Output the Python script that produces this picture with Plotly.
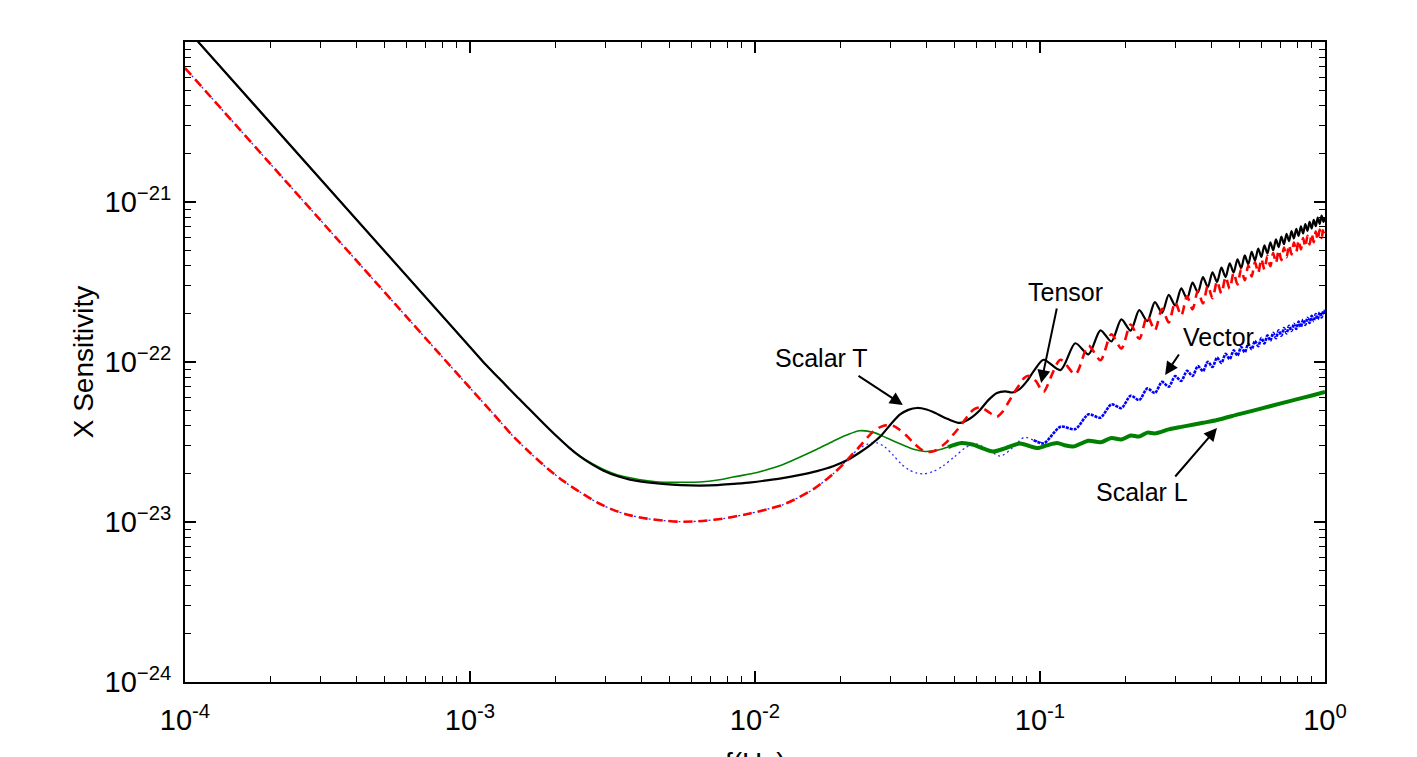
import numpy as np
import plotly.graph_objects as go

# ---------------- data (sensitivity in units of 1e-23) ----------------
S_UNIT = 1e-23

# oscillation sample frequencies (Hz) for the high-frequency region
osc_f_a = [0.103, 0.133, 0.163, 0.193, 0.223, 0.253, 0.283, 0.313, 0.343, 0.373,
           0.403, 0.433, 0.463, 0.493, 0.523, 0.553, 0.583, 0.613, 0.643, 0.673,
           0.703, 0.733, 0.763, 0.793, 0.823, 0.853, 0.883, 0.913, 0.943, 0.973]
osc_f_b = [0.118, 0.148, 0.178, 0.208, 0.238, 0.268, 0.298, 0.328, 0.358, 0.388,
           0.418, 0.448, 0.478, 0.508, 0.538, 0.568, 0.598, 0.628, 0.658, 0.688,
           0.718, 0.748, 0.778, 0.808, 0.838, 0.868, 0.898, 0.928, 0.958, 0.988]

# Tensor (red dashed)
tensor_f_low = [1e-4, 1e-3, 1.2e-3, 1.42e-3, 1.6e-3, 1.86e-3, 2.13e-3, 2.43e-3, 2.78e-3,
                3.18e-3, 3.65e-3, 4.18e-3, 4.8e-3, 5.4e-3, 6.3e-3, 7.72e-3, 9.59e-3,
                0.0112, 0.0125, 0.0142, 0.016, 0.0175, 0.0188, 0.0205, 0.0221, 0.0235,
                0.0247, 0.026, 0.0275, 0.029, 0.0305, 0.032, 0.0341, 0.036, 0.0379,
                0.0395, 0.041, 0.043, 0.0465, 0.0512, 0.0545, 0.0568, 0.059, 0.0615,
                0.064, 0.0668, 0.0706, 0.074, 0.0775, 0.081, 0.0846, 0.088, 0.091,
                0.094, 0.097, 0.100]
tensor_s_low = [688, 6.88, 4.80, 3.42, 2.78, 2.18, 1.80, 1.54, 1.33,
                1.19, 1.10, 1.05, 1.02, 1.005, 1.01, 1.05, 1.13,
                1.21, 1.28, 1.42, 1.6, 1.8, 2.0, 2.32, 2.68, 3.02,
                3.35, 3.68, 3.92, 4.03, 4.0, 3.8, 3.45, 3.12, 2.88,
                2.76, 2.74, 2.80, 3.1, 3.76, 4.35, 4.8, 5.1, 5.2,
                5.05, 4.8, 4.55, 4.9, 5.6, 6.4, 7.2, 7.95, 8.2,
                8.0, 7.55, 6.9]
tensor_s_a = [6.52, 8.39, 10.25, 12.13, 13.96, 15.81, 17.67, 19.53, 21.34, 23.21,
              25.01, 26.84, 28.73, 30.55, 32.40, 34.22, 36.05, 37.81, 39.66, 41.51,
              43.34, 45.14, 47.02, 48.76, 50.60, 52.42, 54.25, 56.07, 57.88, 59.70]
tensor_s_b = [10.33, 12.65, 14.91, 17.15, 19.36, 21.50, 23.65, 25.78, 27.87, 29.96,
              32.00, 34.04, 36.05, 38.12, 40.12, 42.07, 44.11, 46.05, 47.99, 50.01,
              51.90, 53.86, 55.78, 57.69, 59.62, 61.51, 63.42, 65.30, 67.19, 69.07]
tensor_end = (1.0, 64.0)

# Scalar T (black solid)
scalar_t_f_low = [1e-4, 1e-3, 1.13e-3, 1.27e-3, 1.45e-3, 1.63e-3, 1.82e-3, 2.02e-3, 2.22e-3,
                  2.43e-3, 2.68e-3, 2.93e-3, 3.3e-3, 3.64e-3, 4.2e-3, 4.75e-3, 5.5e-3,
                  6.41e-3, 7.4e-3, 8.37e-3, 0.0097, 0.011, 0.0125, 0.0144, 0.0165,
                  0.0188, 0.021, 0.0233, 0.0255, 0.0275, 0.030, 0.0323, 0.0345, 0.037,
                  0.040, 0.0422, 0.0475, 0.0524, 0.057, 0.0615, 0.066, 0.0706, 0.0755,
                  0.080, 0.085, 0.090, 0.096]
scalar_t_s_low = [1240, 12.4, 9.70, 7.85, 6.15, 5.0, 4.1, 3.42, 2.93,
                  2.57, 2.29, 2.10, 1.93, 1.84, 1.77, 1.73, 1.70,
                  1.69, 1.70, 1.73, 1.77, 1.82, 1.88, 1.97, 2.08,
                  2.23, 2.43, 2.72, 3.05, 3.42, 4.1, 4.70, 5.02, 5.16,
                  5.05, 4.87, 4.40, 4.16, 4.45, 5.0, 5.8, 6.4, 6.55,
                  6.45, 6.8, 7.6, 9.0]
scalar_t_s_a = [10.33, 13.09, 15.78, 18.46, 21.07, 23.68, 26.27, 28.86, 31.35, 33.91,
                36.38, 38.86, 41.41, 43.85, 46.34, 48.76, 51.21, 53.54, 56.00, 58.43,
                60.83, 63.20, 65.68, 67.94, 70.36, 72.72, 75.09, 77.44, 79.77, 82.12]
scalar_t_s_b = [8.90, 11.17, 13.44, 15.72, 18.02, 20.28, 22.55, 24.85, 27.13, 29.42,
                31.68, 33.96, 36.22, 38.56, 40.85, 43.08, 45.43, 47.70, 49.95, 52.31,
                54.54, 56.86, 59.13, 61.42, 63.71, 66.00, 68.30, 70.57, 72.89, 75.16]
scalar_t_end = (1.0, 80.0)

# Vector (blue dotted)
vector_f_low = [1e-4, 1e-3, 1.2e-3, 1.42e-3, 1.6e-3, 1.86e-3, 2.13e-3, 2.43e-3, 2.78e-3,
                3.18e-3, 3.65e-3, 4.18e-3, 4.8e-3, 5.4e-3, 6.3e-3, 7.72e-3, 9.59e-3,
                0.0112, 0.0125, 0.0142, 0.016, 0.0175, 0.0188, 0.0199, 0.0215, 0.0233,
                0.025, 0.0268, 0.0285, 0.0305, 0.0325, 0.0345, 0.037, 0.039, 0.042,
                0.0458, 0.050, 0.0552, 0.0597, 0.0655, 0.0725, 0.080, 0.088, 0.095]
vector_s_low = [688, 6.88, 4.80, 3.42, 2.78, 2.18, 1.80, 1.54, 1.33,
                1.19, 1.10, 1.05, 1.02, 1.005, 1.01, 1.05, 1.13,
                1.21, 1.28, 1.42, 1.6, 1.8, 2.0, 2.2, 2.55, 2.90,
                3.08, 3.12, 2.95, 2.62, 2.32, 2.13, 2.02, 2.0, 2.06,
                2.25, 2.55, 2.94, 3.08, 2.85, 2.58, 2.9, 3.38, 3.25]
vector_s_a = [3.10, 3.81, 4.49, 5.15, 5.78, 6.40, 7.01, 7.61, 8.18, 8.76,
              9.31, 9.87, 10.43, 10.97, 11.51, 12.03, 12.56, 13.06, 13.58, 14.09,
              14.60, 15.09, 15.61, 16.08, 16.57, 17.06, 17.54, 18.02, 18.49, 18.96]
vector_s_b = [3.94, 4.71, 5.44, 6.15, 6.84, 7.51, 8.16, 8.80, 9.43, 10.04,
              10.65, 11.24, 11.82, 12.41, 12.99, 13.54, 14.12, 14.66, 15.20, 15.76,
              16.29, 16.82, 17.35, 17.87, 18.39, 18.91, 19.42, 19.93, 20.44, 20.94]
vector_end = (1.0, 20.0)

# Scalar L (green solid)
scalar_l_f = [1e-4, 1e-3, 1.13e-3, 1.27e-3, 1.45e-3, 1.63e-3, 1.82e-3, 2.02e-3, 2.22e-3,
              2.43e-3, 2.68e-3, 2.93e-3, 3.3e-3, 3.64e-3, 4.2e-3, 4.75e-3, 5.5e-3,
              6.41e-3, 7.4e-3, 8.37e-3, 0.0097, 0.011, 0.0125, 0.0144, 0.0165,
              0.0188, 0.021, 0.0233, 0.0262, 0.029, 0.0323, 0.036, 0.0395, 0.044,
              0.0476, 0.053, 0.058, 0.062, 0.0684, 0.076, 0.0851, 0.092, 0.098,
              0.106, 0.1148, 0.122, 0.1306, 0.148, 0.163, 0.178, 0.193, 0.208,
              0.223, 0.238, 0.253, 0.283, 0.313, 0.343, 0.373, 0.418, 0.5, 0.6,
              0.7, 0.8, 0.9, 1.0]
scalar_l_s = [1240, 12.4, 9.70, 7.85, 6.15, 5.0, 4.1, 3.42, 2.94,
              2.59, 2.32, 2.14, 1.97, 1.89, 1.81, 1.77, 1.77,
              1.78, 1.83, 1.91, 2.0, 2.12, 2.28, 2.55, 2.85,
              3.2, 3.5, 3.72, 3.62, 3.35, 3.08, 2.85, 2.76, 2.82,
              2.94, 3.12, 3.05, 2.92, 2.76, 2.9, 3.1, 2.98, 2.9,
              3.02, 3.12, 3.02, 2.96, 3.22, 3.15, 3.35, 3.28, 3.47,
              3.42, 3.62, 3.58, 3.79, 3.93, 4.05, 4.17, 4.34, 4.72, 5.13,
              5.51, 5.86, 6.18, 6.49]

x_tick_vals = [1e-4, 1e-3, 1e-2, 1e-1, 1e0]
x_tick_text = ["10<sup>-4</sup>", "10<sup>-3</sup>", "10<sup>-2</sup>", "10<sup>-1</sup>", "10<sup>0</sup>"]
y_tick_vals = [1e-24, 1e-23, 1e-22, 1e-21]
y_tick_text = ["10<sup>\u221224</sup>", "10<sup>\u221223</sup>", "10<sup>\u221222</sup>", "10<sup>\u221221</sup>"]


def assemble(f_low, s_low, s_a, s_b, end):
    f = list(f_low)
    s = list(s_low)
    for fa, sa, fb, sb in zip(osc_f_a, s_a, osc_f_b, s_b):
        f += [fa, fb]
        s += [sa, sb]
    f.append(end[0])
    s.append(end[1])
    return np.array(f), np.array(s) * S_UNIT


tf, ts = assemble(tensor_f_low, tensor_s_low, tensor_s_a, tensor_s_b, tensor_end)
bf, bs = assemble(scalar_t_f_low, scalar_t_s_low, scalar_t_s_a, scalar_t_s_b, scalar_t_end)
vf, vs = assemble(vector_f_low, vector_s_low, vector_s_a, vector_s_b, vector_end)
gf, gs = np.array(scalar_l_f), np.array(scalar_l_s) * S_UNIT

FONT = "Liberation Sans, Arial, Helvetica, sans-serif"
SMOOTH = 0.8

fig = go.Figure()

# Vector: thin dotted at low f, denser/thicker at high f
m1 = vf <= 0.105
m2 = vf >= 0.095
fig.add_trace(go.Scatter(x=vf[m1], y=vs[m1], mode="lines",
                         line=dict(color="#2a2aff", width=1.3, dash="2px,3px",
                                   shape="spline", smoothing=SMOOTH)))
fig.add_trace(go.Scatter(x=vf[m2], y=vs[m2], mode="lines",
                         line=dict(color="#0000ff", width=2.6, dash="3px,1px",
                                   shape="spline", smoothing=SMOOTH)))

# Scalar L: thin at low f, thicker at high f
g1 = gf <= 0.048
g2 = gf >= 0.0476
fig.add_trace(go.Scatter(x=gf[g1], y=gs[g1], mode="lines",
                         line=dict(color="#008000", width=1.6, shape="spline", smoothing=SMOOTH)))
fig.add_trace(go.Scatter(x=gf[g2], y=gs[g2], mode="lines",
                         line=dict(color="#008000", width=4, shape="spline", smoothing=SMOOTH)))

# Scalar T
fig.add_trace(go.Scatter(x=bf, y=bs, mode="lines",
                         line=dict(color="black", width=2.2, shape="spline", smoothing=SMOOTH)))

# Tensor
fig.add_trace(go.Scatter(x=tf, y=ts, mode="lines",
                         line=dict(color="#ff0000", width=2.6, dash="9px,6px",
                                   shape="spline", smoothing=SMOOTH)))

minor_x = [m * 10.0 ** e for e in range(-4, 0) for m in range(2, 10)]
minor_y = [m * 10.0 ** e for e in range(-24, -20) for m in range(2, 10)]

axis_common = dict(
    type="log", showgrid=False, zeroline=False, showline=True, linecolor="black",
    linewidth=2, mirror="allticks", ticks="inside", ticklen=11, tickwidth=1.5,
    tickcolor="black", tickfont=dict(family=FONT, size=29, color="black"),
    automargin=False,
)

# the page body adds an 8 px offset, so the figure is sized to fit the window
fig.update_layout(
    width=1409, height=749,
    margin=dict(l=177, r=92, t=34, b=75),
    paper_bgcolor="white", plot_bgcolor="white",
    showlegend=False,
    font=dict(family=FONT, color="black"),
    xaxis=dict(axis_common, range=[-4, 0], tickmode="array", tickvals=x_tick_vals,
               ticktext=x_tick_text, ticklabelstandoff=11,
               minor=dict(tickmode="array", tickvals=minor_x, ticks="inside",
                          ticklen=6, tickwidth=1.2, tickcolor="black", showgrid=False)),
    yaxis=dict(axis_common, range=[-24, -20], tickmode="array", tickvals=y_tick_vals,
               ticktext=y_tick_text, ticklabelstandoff=6,
               minor=dict(tickmode="array", tickvals=minor_y, ticks="inside",
                          ticklen=6, tickwidth=1.2, tickcolor="black", showgrid=False),
               title=dict(text="X Sensitivity", font=dict(family=FONT, size=28), standoff=3)),
)

# x-axis title placed low, partly below the window edge as in the original
fig.add_annotation(x=0.5, y=-0.098, xref="paper", yref="paper", xanchor="center",
                   yanchor="top", text="f(Hz)", showarrow=False,
                   font=dict(family=FONT, size=28, color="black"))

# annotations (positions in log10 axis units)
labels = [
    ("Scalar T", -1.765, -21.975, -1.642, -22.081, -1.481, -22.269),
    ("Tensor", -0.912, -21.5625, -0.940, -21.656, -0.996, -22.131),
    ("Vector", -0.375, -21.844, -0.509, -21.944, -0.561, -22.081),
    ("Scalar L", -0.642, -22.8125, -0.530, -22.725, -0.379, -22.4125),
]
for text, tx, ty, ax_, ay_, hx, hy in labels:
    fig.add_annotation(x=tx, y=ty, xref="x", yref="y", text=text, showarrow=False,
                       font=dict(family=FONT, size=25, color="black"))
    fig.add_annotation(x=hx, y=hy, ax=ax_, ay=ay_, xref="x", yref="y", axref="x", ayref="y",
                       text="", showarrow=True, arrowhead=2, arrowsize=1.3,
                       arrowwidth=2, arrowcolor="black", standoff=0, startstandoff=0)

fig.write_html("out.html")
